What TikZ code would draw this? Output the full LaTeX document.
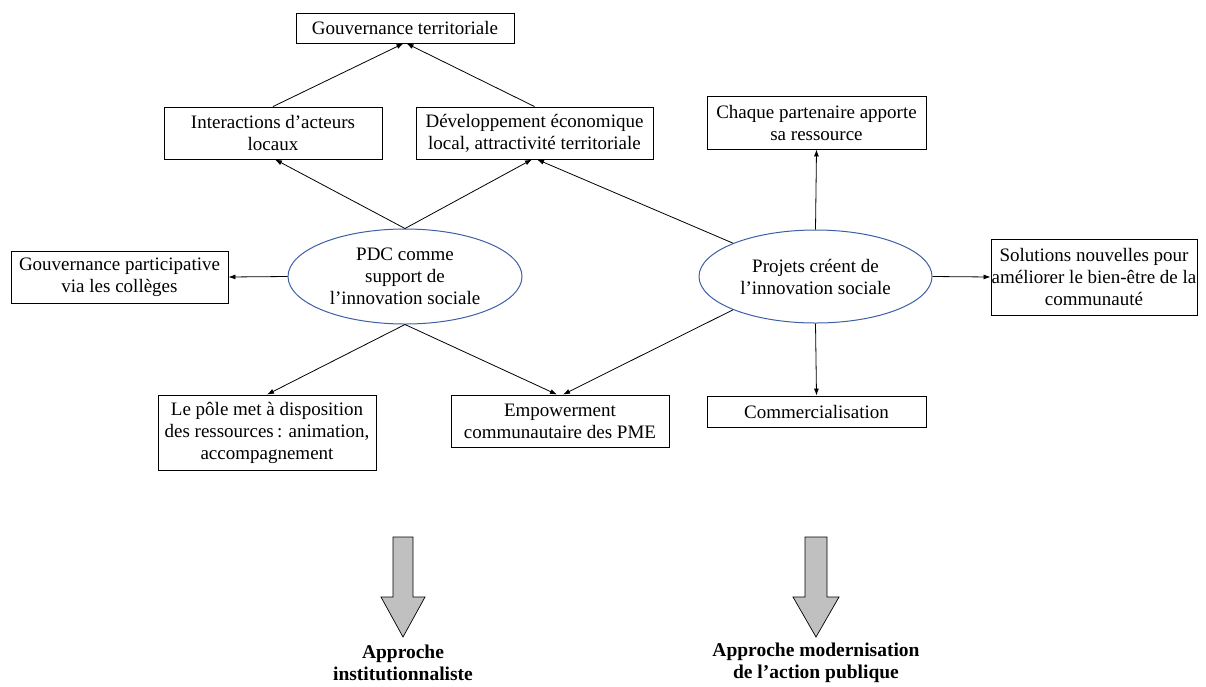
\documentclass[tikz,border=0pt]{standalone}
\usepackage{fontspec}
\setmainfont{Liberation Serif}
\usetikzlibrary{arrows.meta,shapes.geometric}
\definecolor{ellblue}{RGB}{60,95,165}
\definecolor{biggray}{RGB}{192,192,192}
\begin{document}
\begin{tikzpicture}[x=1pt,y=-1pt,
  every node/.style={font=\fontsize{19}{22}\selectfont, align=center, inner sep=0pt},
  box/.style={draw=black, line width=0.9pt, rectangle},
  oval/.style={draw=ellblue, line width=1pt, ellipse},
  conn/.style={line width=0.8pt, -{Latex[length=7pt,width=5pt]}},
  bigarrow/.style={draw=black, line width=0.7pt, fill=biggray},
  bold/.style={font=\fontsize{19.5}{22}\selectfont\bfseries}
]
\useasboundingbox (0,0) rectangle (1206,686);

% boxes
\node[box, minimum width=218, minimum height=30] (gt) at (405,28) {Gouvernance territoriale};
\node[box, minimum width=218, minimum height=52] (ia) at (273,133) {Interactions d’acteurs\\locaux};
\node[box, minimum width=237, minimum height=52] (de) at (534.5,133) {Développement économique\\local, attractivité territoriale};
\node[box, minimum width=219, minimum height=53] (cp) at (816.5,122.5) {Chaque partenaire apporte\\sa ressource};
\node[box, minimum width=217, minimum height=52] (gp) at (119.5,277) {Gouvernance participative\\via les collèges};
\node[box, minimum width=206, minimum height=76] (sol) at (1094,277) {Solutions nouvelles pour\\améliorer le bien-être de la\\communauté};
\node[box, minimum width=218, minimum height=75] (lp) at (267,432.5) {Le pôle met à disposition\\des ressources\,: animation,\\accompagnement};
\node[box, minimum width=218, minimum height=52] (em) at (560,421) {Empowerment\\communautaire des PME};
\node[box, minimum width=219, minimum height=31] (co) at (816.5,411.5) {Commercialisation};

% ellipses
\node[oval, minimum width=234, minimum height=95] (pdc) at (405,276.5) {PDC comme\\support de\\l’innovation sociale};
\node[oval, minimum width=233, minimum height=93] (pro) at (815.5,276.5) {Projets créent de\\l’innovation sociale};

% connectors
\draw[conn] (ia.north) -- ([xshift=-1.5pt]gt.south);
\draw[conn] (de.north) -- ([xshift=1.5pt]gt.south);
\draw[conn] (pdc.north) -- ([xshift=2pt]ia.south);
\draw[conn] (pdc.north) -- ([xshift=-2.5pt]de.south);
\draw[conn] (pro.158) -- ([xshift=2.5pt]de.south);
\draw[conn] (pdc.west) -- (gp.east);
\draw[conn] (pdc.south) -- (lp.north);
\draw[conn] (pdc.south) -- ([xshift=-3pt]em.north);
\draw[conn] (pro.202) -- ([xshift=3pt]em.north);
\draw[conn] (pro.north) -- (cp.south);
\draw[conn] (pro.south) -- (co.north);
\draw[conn] (pro.east) -- (sol.west);

% bottom labels
\node[bold] (ap1) at (403,663) {Approche\\institutionnaliste};
\node[bold] (ap2) at (816,663) {Approche modernisation\\de l’action publique};

% big arrows
\coordinate (t1) at (403,637);
\coordinate (t2) at (816,637);
\draw[bigarrow] (t1) -- ++(-22,-40) -- ++(12,0) -- ++(0,-60) -- ++(20,0) -- ++(0,60) -- ++(12,0) -- cycle;
\draw[bigarrow] (t2) -- ++(-23,-40) -- ++(12,0) -- ++(0,-60) -- ++(22,0) -- ++(0,60) -- ++(12,0) -- cycle;
\end{tikzpicture}
\end{document}
